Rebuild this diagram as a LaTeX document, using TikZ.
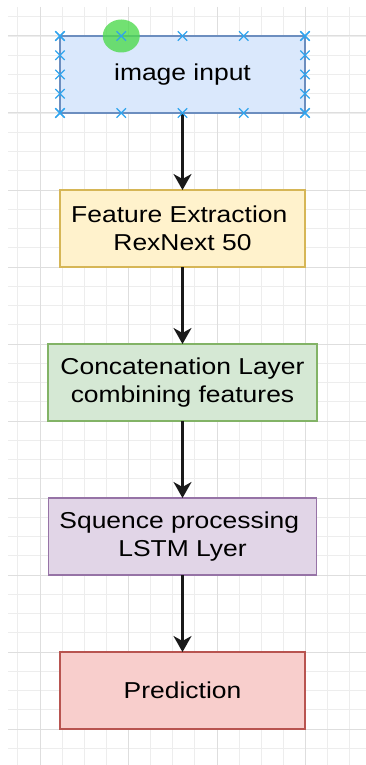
\documentclass[tikz,border=0pt]{standalone}
\usepackage{fontspec}
\setmainfont{Liberation Sans}[FakeStretch=1.15]
\usetikzlibrary{positioning, arrows.meta, calc, shapes.misc, shapes.geometric}

\definecolor{inpfill}{HTML}{DAE8FC}\definecolor{inpline}{HTML}{6C8EBF}
\definecolor{extfill}{HTML}{FFF2CC}\definecolor{extline}{HTML}{D6B656}
\definecolor{catfill}{HTML}{D5E8D4}\definecolor{catline}{HTML}{82B366}
\definecolor{seqfill}{HTML}{E1D5E7}\definecolor{seqline}{HTML}{9673A6}
\definecolor{outfill}{HTML}{F8CECC}\definecolor{outline}{HTML}{B85450}
\definecolor{hdlblue}{HTML}{2FA4EE}
\definecolor{grabgreen}{HTML}{4FD94F}

\begin{document}
\begin{tikzpicture}[
  x=1pt, y=-1pt,
  font=\fontsize{23}{27.5}\selectfont,
  box/.style={line width=1.6pt, align=center, minimum height=77pt,
              inner sep=0pt, outer sep=0pt},
  inp/.style={box, fill=inpfill, draw=inpline, minimum width=245pt},
  ext/.style={box, fill=extfill, draw=extline, minimum width=245pt},
  cat/.style={box, fill=catfill, draw=catline, minimum width=269pt},
  seq/.style={box, fill=seqfill, draw=seqline, minimum width=268pt},
  res/.style={box, fill=outfill, draw=outline, minimum width=245pt},
  hdl/.style={draw=hdlblue, cross out, line width=1.4pt, minimum size=8pt, inner sep=0pt},
  grab/.style={ellipse, fill=grabgreen, fill opacity=0.8, minimum width=37pt,
               minimum height=33pt, inner sep=0pt},
  minorgrid/.style={draw=black!7, line width=0.8pt},
  majorgrid/.style={draw=black!13, line width=1pt},
  flow/.style={-{Stealth[length=16pt,width=18pt,inset=5pt]}, line width=2.2pt, draw=black!90}
]
\useasboundingbox (0,0) rectangle (366,765);
% background grid
\foreach \k in {-1,...,14}{
  \pgfmathsetmacro\gx{40+22.125*\k}
  \draw[minorgrid] (\gx,7) -- (\gx,765);}
\foreach \k in {-1,...,37}{
  \pgfmathsetmacro\gy{36+19.25*\k}
  \draw[minorgrid] (8,\gy) -- (366,\gy);}
\foreach \gx in {40,128.5,217,305.5}{
  \draw[majorgrid] (\gx,7) -- (\gx,765);}
\foreach \gy in {36,113,190,267,344,421,498,575,652,729}{
  \draw[majorgrid] (8,\gy) -- (366,\gy);}

\node[inp] (a) at (182.5,74.5) {image input};
\node[ext, below=77pt of a] (b) {Feature Extraction\kern.28em\\RexNext 50};
\node[cat, below=77pt of b] (c) {Concatenation Layer\\combining features};
\node[seq, below=77pt of c] (d) {Squence processing\kern.28em\\LSTM Lyer};
\node[res, below=77pt of d] (e) {Prediction};
\foreach \s/\t in {a/b, b/c, c/d, d/e}{
  \draw[flow] (\s.south) -- (\t.north);}

% selection handles on the input box
\node[grab] (g) at ($(a.north west)!0.25!(a.north east)$) {};
\foreach \i in {0,...,4}{
  \node[hdl] (ht\i) at ($(a.north west)!\i/4!(a.north east)$) {};
  \node[hdl] (hb\i) at ($(a.south west)!\i/4!(a.south east)$) {};
  \node[hdl] (hl\i) at ($(a.north west)!\i/4!(a.south west)$) {};
  \node[hdl] (hr\i) at ($(a.north east)!\i/4!(a.south east)$) {};}
\end{tikzpicture}
\end{document}
